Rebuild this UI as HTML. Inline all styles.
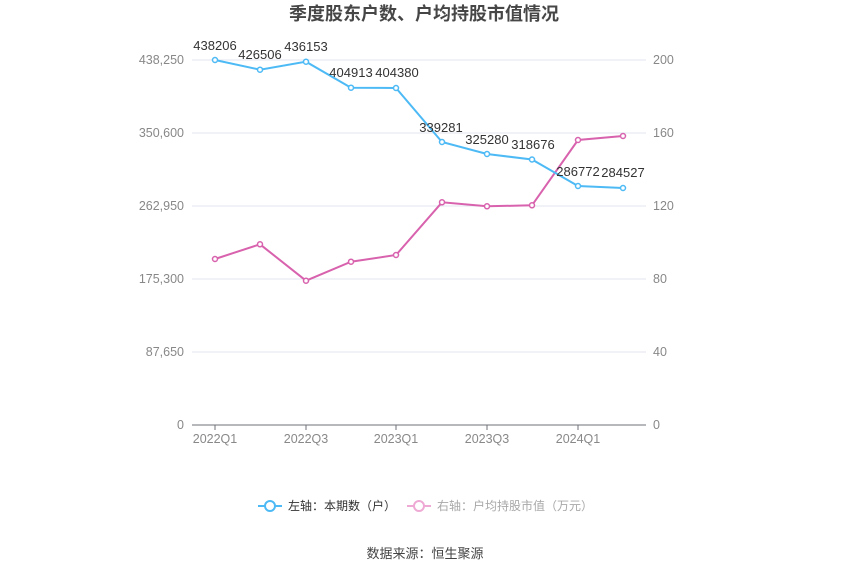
<!DOCTYPE html>
<html><head><meta charset="utf-8"><style>
html,body{margin:0;padding:0;background:#fff;}
svg{display:block;font-family:"Liberation Sans","Noto Sans CJK SC",sans-serif;}
</style></head><body>
<svg width="850" height="575" viewBox="0 0 850 575" xmlns="http://www.w3.org/2000/svg">
<rect width="850" height="575" fill="#fff"/>
<text x="424" y="20" text-anchor="middle" font-size="18" font-weight="bold" fill="#464646">季度股东户数、户均持股市值情况</text>
<g stroke="#e0e6f1" stroke-width="1">
<line x1="192" y1="60" x2="646" y2="60"/>
<line x1="192" y1="133" x2="646" y2="133"/>
<line x1="192" y1="206" x2="646" y2="206"/>
<line x1="192" y1="279" x2="646" y2="279"/>
<line x1="192" y1="352" x2="646" y2="352"/>
</g>
<line x1="192" y1="425" x2="646" y2="425" stroke="#6e7079" stroke-width="1"/>
<g stroke="#6e7079" stroke-width="1">
<line x1="215" y1="425" x2="215" y2="430"/>
<line x1="306" y1="425" x2="306" y2="430"/>
<line x1="396" y1="425" x2="396" y2="430"/>
<line x1="487" y1="425" x2="487" y2="430"/>
<line x1="578" y1="425" x2="578" y2="430"/>
</g>
<g font-size="12.5" fill="#888" text-anchor="end">
<text x="184" y="64">438,250</text>
<text x="184" y="137">350,600</text>
<text x="184" y="210">262,950</text>
<text x="184" y="283">175,300</text>
<text x="184" y="356">87,650</text>
<text x="184" y="429">0</text>
</g>
<g font-size="12.5" fill="#888" text-anchor="start">
<text x="653" y="64">200</text>
<text x="653" y="137">160</text>
<text x="653" y="210">120</text>
<text x="653" y="283">80</text>
<text x="653" y="356">40</text>
<text x="653" y="429">0</text>
</g>
<g font-size="12.5" fill="#888" text-anchor="middle">
<text x="215" y="443">2022Q1</text>
<text x="306" y="443">2022Q3</text>
<text x="396" y="443">2023Q1</text>
<text x="487" y="443">2023Q3</text>
<text x="578" y="443">2024Q1</text>
</g>
<polyline fill="none" stroke="#d862ad" stroke-width="2" points="215,259 260,244.3 306,280.7 351,261.7 396,255 442,202.3 487,206.3 532,205.3 578,140 623,136"/>
<g fill="#fff" stroke="#d862ad" stroke-width="1.5">
<circle cx="215" cy="259" r="2.5"/><circle cx="260" cy="244.3" r="2.5"/><circle cx="306" cy="280.7" r="2.5"/><circle cx="351" cy="261.7" r="2.5"/><circle cx="396" cy="255" r="2.5"/><circle cx="442" cy="202.3" r="2.5"/><circle cx="487" cy="206.3" r="2.5"/><circle cx="532" cy="205.3" r="2.5"/><circle cx="578" cy="140" r="2.5"/><circle cx="623" cy="136" r="2.5"/>
</g>
<polyline fill="none" stroke="#4dbaf5" stroke-width="2" points="215,60 260,69.7 306,61.7 351,87.7 396,88 442,142 487,154 532,159.5 578,186 623,188"/>
<g fill="#fff" stroke="#4dbaf5" stroke-width="1.5">
<circle cx="215" cy="60" r="2.5"/><circle cx="260" cy="69.7" r="2.5"/><circle cx="306" cy="61.7" r="2.5"/><circle cx="351" cy="87.7" r="2.5"/><circle cx="396" cy="88" r="2.5"/><circle cx="442" cy="142" r="2.5"/><circle cx="487" cy="154" r="2.5"/><circle cx="532" cy="159.5" r="2.5"/><circle cx="578" cy="186" r="2.5"/><circle cx="623" cy="188" r="2.5"/>
</g>
<g font-size="13" fill="#333" text-anchor="middle">
<text x="215" y="50">438206</text>
<text x="260" y="59">426506</text>
<text x="306" y="51">436153</text>
<text x="351" y="77">404913</text>
<text x="397" y="77">404380</text>
<text x="441" y="132">339281</text>
<text x="487" y="144">325280</text>
<text x="533" y="149">318676</text>
<text x="578" y="176">286772</text>
<text x="623" y="177">284527</text>
</g>
<line x1="258" y1="506" x2="282" y2="506" stroke="#4dbaf5" stroke-width="2"/>
<circle cx="270" cy="506" r="5" fill="#fff" stroke="#4dbaf5" stroke-width="2"/>
<text x="288" y="510" font-size="12" fill="#333">左轴：本期数（户）</text>
<line x1="407" y1="506" x2="431" y2="506" stroke="#eeaad4" stroke-width="2"/>
<circle cx="419" cy="506" r="5" fill="#fff" stroke="#eeaad4" stroke-width="2"/>
<text x="437" y="510" font-size="12" fill="#a8a8a8">右轴：户均持股市值（万元）</text>
<text x="425" y="558" font-size="13" fill="#444" text-anchor="middle">数据来源：恒生聚源</text>
</svg>
</body></html>
